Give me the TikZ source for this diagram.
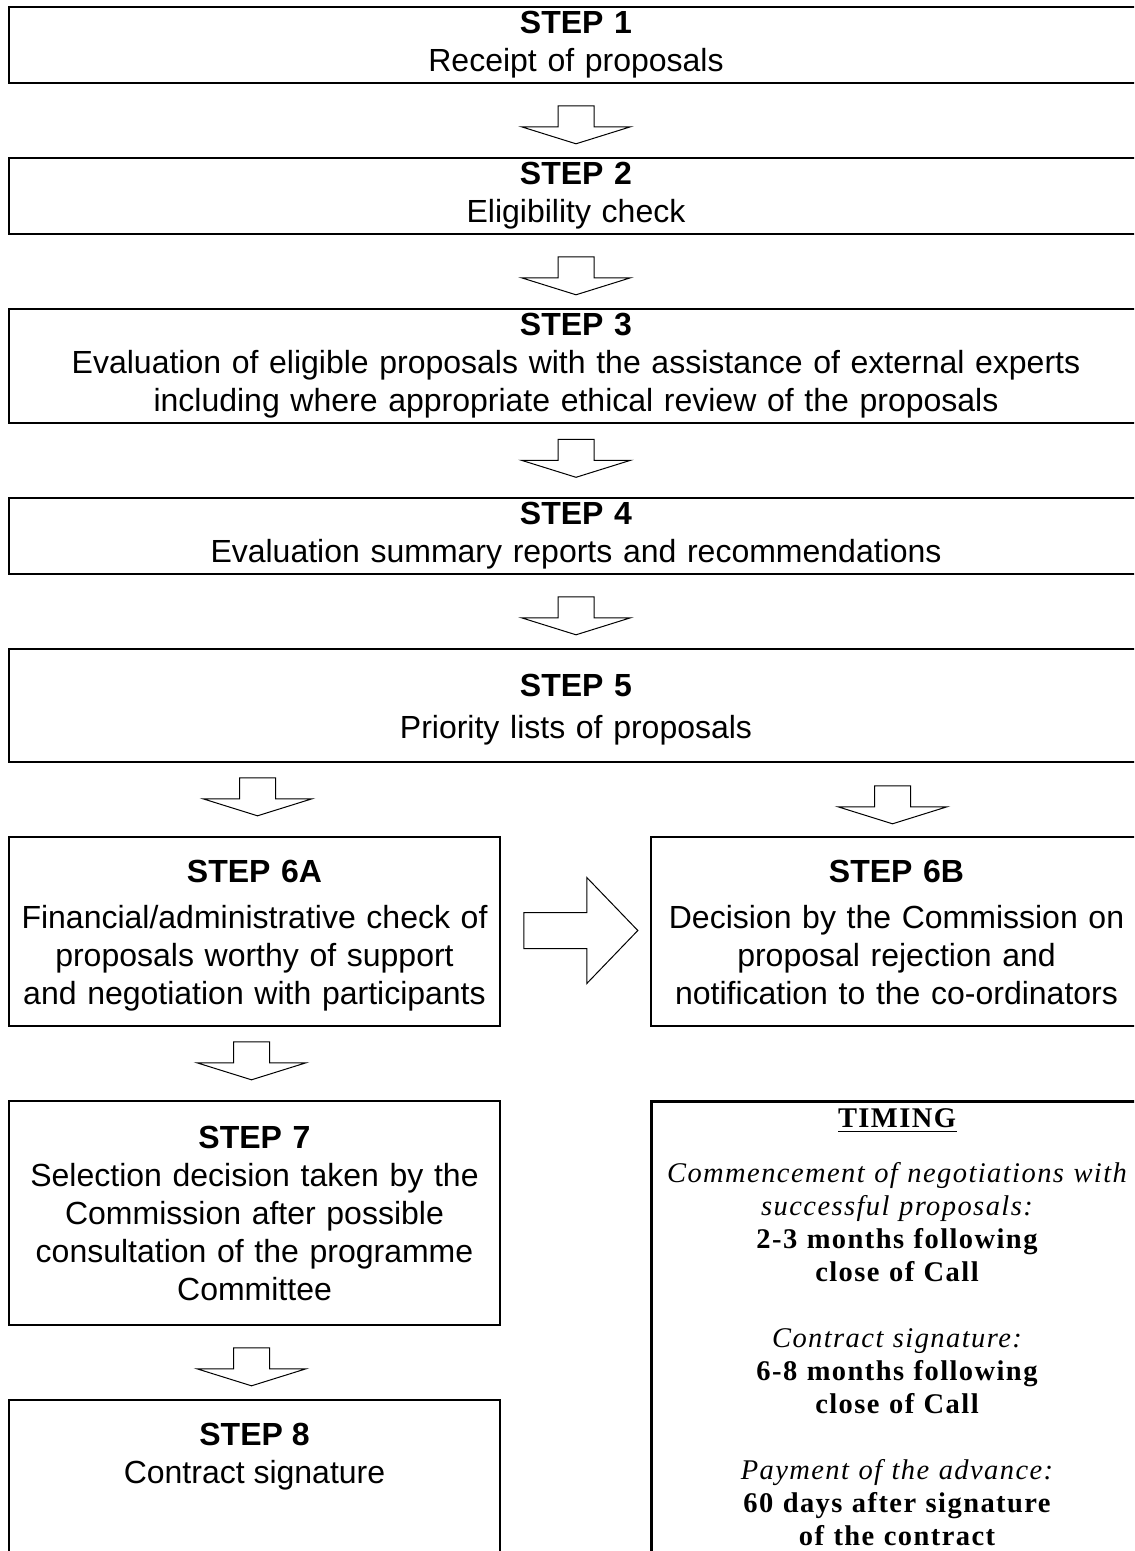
\documentclass[tikz,border=0pt]{standalone}
\usepackage{fontspec}
\newfontfamily\stepsans{Liberation Sans}
\newfontfamily\timingserif{Liberation Serif}[LetterSpace=5]
\usetikzlibrary{positioning}
\usetikzlibrary{chains}
\usetikzlibrary{scopes}
\usetikzlibrary{calc}

% hollow block arrow pointing down, top centre at #1
\newcommand{\downblock}[1]{%
  \draw[blockline] (#1) ++(-18,0) -- ++(36,0) -- ++(0,-21) -- ++(36.5,0)
    -- ++(-54.5,-17) -- ++(-54.5,17) -- ++(36.5,0) -- cycle;}

\begin{document}
\begin{tikzpicture}[x=0.5pt,y=0.5pt,node distance=36.7pt,
    stepbox/.style={draw,line width=0.8pt,align=center,inner sep=0pt,
      font=\stepsans\fontsize{16pt}{19pt}\selectfont},
    widebox/.style={stepbox,text width=567pt,minimum height=38pt},
    halfbox/.style={stepbox,text width=245.5pt},
    blockline/.style={line width=0.5pt,line join=miter},
    timingbox/.style={draw,line width=1.5pt,minimum width=246pt,
      minimum height=240pt,inner sep=0pt},
    timingtext/.style={align=center,text width=246pt,inner sep=0pt,
      font=\timingserif\fontsize{14.25pt}{16.5pt}\selectfont}]
    \path[use as bounding box,clip] (0,0) rectangle (1134,-1551);
    { [start chain=main going below]
        \node [widebox,on chain] (s1) at (576,-45)
            {\textbf{STEP 1}\\Receipt of proposals};
        \node [widebox,on chain] (s2)
            {\textbf{STEP 2}\\Eligibility check};
        \node [widebox,on chain,minimum height=57pt] (s3)
            {\textbf{STEP 3}\\Evaluation of eligible proposals with the assistance of external experts\\
             including where appropriate ethical review of the proposals};
        \node [widebox,on chain] (s4)
            {\textbf{STEP 4}\\Evaluation summary reports and recommendations};
        \node [widebox,on chain,minimum height=56.5pt] (s5)
            {\rule{0pt}{15.5pt}\textbf{STEP 5}\\[2pt]Priority lists of proposals};
    }
    % the two branches after step 5
    \node [halfbox,minimum height=94.5pt,below=36.7pt of s5.south west,
        anchor=north west] (s6a)
        {\rule{0pt}{15.5pt}\textbf{STEP 6A}\\[4pt]Financial/administrative check of\\
         proposals worthy of support\\and negotiation with participants};
    \node [halfbox,minimum height=94.5pt,right=74.7pt of s6a] (s6b)
        {\rule{0pt}{15.5pt}\textbf{STEP 6B}\\[4pt]Decision by the Commission on\\
         proposal rejection and\\notification to the co-ordinators\vphantom{p}};
    \node [halfbox,minimum height=112pt,below=of s6a] (s7)
        {\textbf{STEP 7}\\Selection decision taken by the\\
         Commission after possible\\consultation of the programme\\Committee};
    \node [halfbox,minimum height=100pt,below=of s7] (s8) {};
    \node [stepbox,draw=none,below=11.5pt of s8.north] (s8txt)
        {\textbf{STEP 8}\\Contract signature};
    % timing panel, cut by the page edge
    \node [timingbox,anchor=north west] (timing) at (s7.north -| s6b.west) {};
    \node [timingtext,below=4.2pt of timing.north] (timingtxt)
        {\underline{\textbf{TIMING}}\\[11pt]
         \textit{Commencement of negotiations with}\\
         \textit{successful proposals:}\\
         \textbf{2-3 months following}\\
         \textbf{close of Call}\\[16.5pt]
         \textit{Contract signature:}\\
         \textbf{6-8 months following}\\
         \textbf{close of Call}\\[16.5pt]
         \textit{Payment of the advance:}\\
         \textbf{60 days after signature}\\
         \textbf{of the contract}};
    % block arrows
    \foreach \n/\d in {1/22,2/22,3/15.5,4/22}
        \coordinate (a\n) at ($(s\n.south)+(0,-\d)$);
    \coordinate (a5) at ($(s6a.north |- s5.south)+(3,-15)$);
    \coordinate (a6) at ($(s6b.north |- s5.south)+(-4,-23)$);
    \coordinate (a7) at ($(s6a.south)+(-3,-15)$);
    \coordinate (a8) at ($(s7.south)+(-3,-22)$);
    \foreach \n in {1,...,8}
        \downblock{a\n}
    \coordinate (ra) at ($(s6a.east)+(23,1)$);
    \draw[blockline] (ra) ++(0,18) -- ++(63,0) -- ++(0,35) -- ++(51,-53)
        -- ++(-51,-53) -- ++(0,35) -- ++(-63,0) -- cycle;
\end{tikzpicture}
\end{document}
